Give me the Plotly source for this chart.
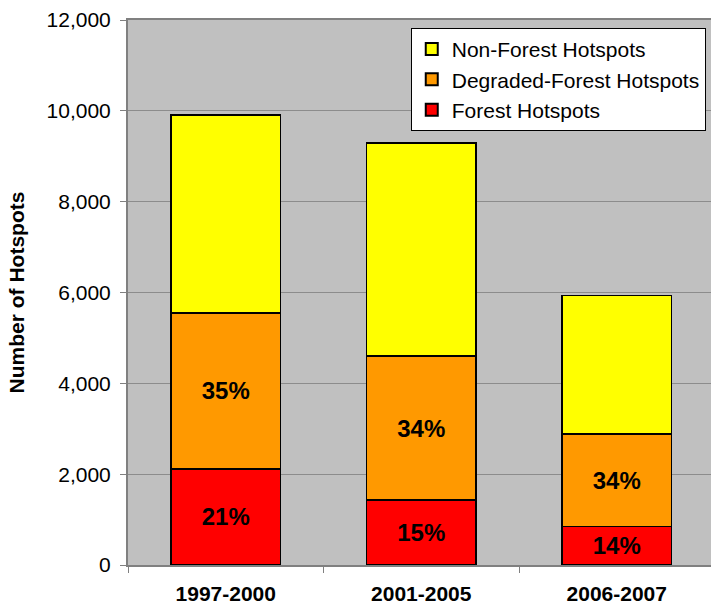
import plotly.graph_objects as go

# Hotspot counts per period, stacked by land-cover class
periods = ["1997-2000", "2001-2005", "2006-2007"]
forest = [2120, 1430, 845]
degraded = [3430, 3170, 2040]
non_forest = [4360, 4690, 3045]

series_names = ["Forest Hotspots", "Degraded-Forest Hotspots", "Non-Forest Hotspots"]
series_colors = ["#FF0000", "#FF9900", "#FFFF00"]

totals = [f + d + n for f, d, n in zip(forest, degraded, non_forest)]


def pct_labels(values):
    return [f"{round(100 * v / t)}%" for v, t in zip(values, totals)]


FONT = "Arial, Liberation Sans, sans-serif"

fig = go.Figure()
series = [forest, degraded, non_forest]
labels = [pct_labels(forest), pct_labels(degraded), None]
for name, vals, color, txt in zip(series_names, series, series_colors, labels):
    fig.add_trace(go.Bar(
        x=periods,
        y=vals,
        name=name,
        width=0.56,
        marker=dict(color=color, line=dict(color="#000000", width=1.6)),
        text=txt,
        textposition="inside" if txt else "none",
        insidetextanchor="middle",
        textangle=0,
        constraintext="none",
        textfont=dict(family=FONT, size=24, color="#000000", weight="bold"),
        hoverinfo="skip",
    ))

fig.update_layout(
    width=711,
    height=610,
    barmode="stack",
    paper_bgcolor="#FFFFFF",
    plot_bgcolor="#C0C0C0",
    margin=dict(l=128, r=0, t=20, b=45),
    font=dict(family=FONT, size=21, color="#000000"),
    showlegend=True,
    legend=dict(
        x=0.991, y=0.9855, xanchor="right", yanchor="top",
        bgcolor="#FFFFFF", bordercolor="#000000", borderwidth=1,
        traceorder="reversed",
        font=dict(family=FONT, size=21, color="#000000"),
        itemsizing="constant",
        tracegroupgap=0,
    ),
    xaxis=dict(
        range=[-0.5, 2.482],
        showline=True, linecolor="#808080", linewidth=2,
        mirror=True,
        ticks="outside", tickson="boundaries", ticklen=6, tickcolor="#808080",
        tickfont=dict(family=FONT, size=21, color="#000000", weight="bold"),
        ticklabelstandoff=9,
        showgrid=False,
    ),
    yaxis=dict(
        range=[0, 12000],
        tickvals=[0, 2000, 4000, 6000, 8000, 10000, 12000],
        tickformat=",d",
        showline=True, linecolor="#808080", linewidth=2,
        ticks="outside", ticklen=6, tickcolor="#808080",
        tickfont=dict(family=FONT, size=21, color="#000000"),
        ticklabelstandoff=5,
        showgrid=True, gridcolor="#8C8C8C", gridwidth=1,
        zeroline=False,
        title=dict(text="Number of Hotspots", standoff=16,
                   font=dict(family=FONT, size=21, color="#000000", weight="bold")),
    ),
)

fig.write_html("out.html")
